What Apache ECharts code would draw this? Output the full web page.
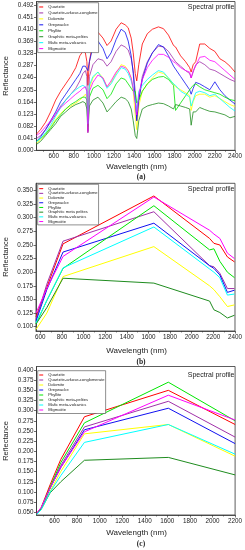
<!DOCTYPE html>
<html><head><meta charset="utf-8">
<script src="https://cdn.jsdelivr.net/npm/echarts@6/dist/echarts.min.js"></script>
<style>html,body{margin:0;padding:0;background:#fff}#c{width:245px;height:550px}</style>
</head><body><div id="c"></div>
<script>
const names = ['Quartzite','Quartzite-arkose-conglomerate','Dolomite','Greywacke','Phyllite','Graphitic meta-pelites','Mafic meta-volcanics','Migmatite'];

// Panel (a) – hyperspectral profile
const wlA = [430,470,520,570,620,670,720,770,820,860,890,915,930,940,955,990,1040,1090,1130,1170,1220,1270,1310,1340,1370,1390,1410,1425,1445,1480,1530,1580,1640,1690,1740,1790,1810,1860,1910,1950,1965,1985,2010,2050,2100,2150,2200,2250,2300,2350,2400];
const aQuartzite = [.055,.07,.095,.13,.17,.20,.225,.25,.28,.32,.335,.33,.30,.22,.30,.37,.40,.38,.355,.37,.41,.432,.425,.415,.38,.33,.26,.235,.29,.36,.395,.41,.418,.412,.39,.355,.35,.32,.30,.28,.265,.29,.30,.36,.36,.345,.335,.31,.30,.285,.265];
const aArkose = [.04,.05,.07,.095,.12,.15,.17,.19,.21,.235,.26,.27,.25,.065,.25,.29,.31,.305,.285,.30,.335,.357,.35,.34,.31,.27,.20,.10,.17,.25,.30,.33,.353,.35,.335,.31,.30,.285,.27,.26,.245,.265,.29,.30,.29,.275,.27,.26,.25,.24,.233];
const aDolomite = [.025,.035,.055,.08,.105,.125,.14,.15,.16,.17,.18,.19,.18,.10,.21,.245,.265,.245,.215,.23,.26,.29,.285,.27,.245,.20,.12,.07,.15,.20,.225,.245,.265,.26,.245,.225,.215,.205,.195,.185,.135,.165,.185,.19,.19,.18,.185,.175,.165,.155,.148];
const aGreywacke = [.03,.045,.07,.10,.13,.165,.19,.215,.24,.26,.285,.285,.28,.27,.30,.35,.37,.345,.31,.33,.375,.41,.40,.37,.32,.26,.17,.10,.17,.24,.295,.33,.358,.35,.32,.285,.275,.25,.225,.205,.19,.21,.23,.225,.215,.205,.232,.205,.185,.17,.157];
const aPhyllite = [.03,.04,.055,.075,.10,.12,.14,.155,.165,.175,.18,.18,.17,.08,.18,.21,.22,.205,.175,.19,.225,.245,.24,.225,.21,.20,.20,.16,.17,.20,.225,.24,.248,.25,.24,.22,.135,.16,.185,.205,.21,.22,.225,.215,.205,.20,.195,.19,.18,.172,.168];
const aGraphitic = [.02,.03,.05,.07,.09,.115,.13,.145,.155,.16,.165,.16,.14,.06,.15,.17,.18,.16,.13,.145,.165,.18,.175,.165,.14,.10,.05,.04,.10,.14,.15,.155,.16,.158,.15,.14,.155,.15,.145,.14,.085,.13,.13,.145,.138,.132,.13,.125,.12,.11,.115];
const aMafic = [.03,.04,.06,.085,.115,.145,.17,.19,.205,.215,.22,.215,.20,.09,.22,.25,.265,.24,.21,.225,.255,.28,.275,.26,.235,.21,.17,.13,.20,.22,.24,.255,.27,.265,.245,.225,.22,.20,.19,.18,.15,.17,.195,.20,.195,.185,.19,.175,.16,.145,.133];
const aMigmatite = [.05,.06,.08,.10,.125,.145,.16,.175,.19,.20,.21,.215,.20,.06,.20,.23,.255,.245,.215,.235,.265,.285,.28,.27,.245,.21,.16,.12,.19,.24,.28,.305,.325,.325,.315,.30,.295,.28,.27,.265,.245,.27,.285,.315,.318,.305,.30,.285,.27,.255,.24];

// Panel (b) – ASTER bands
const wlB = [560,660,810,1650,2165,2205,2260,2330,2395];
const bQuartzite = [0.118,0.172,0.252,0.340,0.262,0.253,0.250,0.228,0.219];
const bArkose = [0.113,0.178,0.257,0.311,0.212,0.210,0.198,0.170,0.170];
const bDolomite = [0.095,0.125,0.192,0.247,0.175,0.168,0.155,0.137,0.140];
const bGreywacke = [0.110,0.168,0.237,0.290,0.212,0.207,0.195,0.163,0.167];
const bPhyllite = [0.105,0.148,0.207,0.322,0.241,0.243,0.220,0.200,0.190];
const bGraphitic = [0.105,0.135,0.189,0.180,0.147,0.131,0.126,0.116,0.121];
const bMafic = [0.107,0.148,0.208,0.283,0.206,0.200,0.190,0.158,0.160];
const bMigmatite = [0.125,0.170,0.229,0.338,0.277,0.270,0.262,0.235,0.225];

// Panel (c) – Landsat OLI bands
const wlC = [443,482,561,655,865,1609,2201];
const cQuartzite = [0.048,0.062,0.118,0.180,0.285,0.350,0.266];
const cArkose = [0.047,0.060,0.110,0.165,0.260,0.323,0.235];
const cDolomite = [0.046,0.057,0.102,0.150,0.243,0.266,0.188];
const cGreywacke = [0.047,0.060,0.110,0.160,0.253,0.306,0.219];
const cPhyllite = [0.047,0.060,0.112,0.172,0.270,0.370,0.275];
const cGraphitic = [0.045,0.058,0.098,0.125,0.178,0.185,0.142];
const cMafic = [0.045,0.057,0.100,0.140,0.222,0.266,0.193];
const cMigmatite = [0.048,0.062,0.110,0.160,0.248,0.338,0.277];

// tick labels
const xTicksA = [600,800,1000,1200,1400,1600,1800,2000,2200,2400];
const xMinorA = [500,700,900,1100,1300,1500,1700,1900,2100,2300];
const yTicksA = [0,0.041,0.082,0.123,0.164,0.205,0.246,0.287,0.328,0.369,0.410,0.451,0.492];
const xTicksB = [600,800,1000,1200,1400,1600,1800,2000,2200,2400];
const xMinorB = [700,900,1100,1300,1500,1700,1900,2100,2300];
const yTicksB = [0.100,0.125,0.150,0.175,0.200,0.225,0.250,0.275,0.300,0.325,0.350];
const xTicksC = [600,800,1000,1200,1400,1600,1800,2000,2200];
const xMinorC = [500,700,900,1100,1300,1500,1700,1900,2100];
const yTicksC = [0.050,0.075,0.100,0.125,0.150,0.175,0.200,0.225,0.250,0.275,0.300,0.325,0.350,0.375,0.400];

const colors = ['#ff0000','#a030a8','#ffff00','#1010f0','#00e600','#1f8c1f','#00ffff','#ff00ff'];
const FONT = '"Liberation Sans", Arial, sans-serif';
const AX = '#333';

const panels = [
  {wl: wlA, data: [aQuartzite,aArkose,aDolomite,aGreywacke,aPhyllite,aGraphitic,aMafic,aMigmatite],
   grid: {left:36.5, top:1.5, width:199.5, height:148.8}, xmin:430, xmax:2400, ymin:0, ymax:0.504,
   xt:xTicksA, xm:xMinorA, yt:yTicksA, lw:0.8},
  {wl: wlB, data: [bQuartzite,bArkose,bDolomite,bGreywacke,bPhyllite,bGraphitic,bMafic,bMigmatite],
   grid: {left:36, top:183.3, width:201, height:147.7}, xmin:560, xmax:2400, ymin:0.0921, ymax:0.3632,
   xt:xTicksB, xm:xMinorB, yt:yTicksB, lw:1},
  {wl: wlC, data: [cQuartzite,cArkose,cDolomite,cGreywacke,cPhyllite,cGraphitic,cMafic,cMigmatite],
   grid: {left:36.5, top:366.5, width:199.5, height:148.5}, xmin:440, xmax:2201, ymin:0.0434, ymax:0.4086,
   xt:xTicksC, xm:xMinorC, yt:yTicksC, lw:1}
];

const grid = [], xAxis = [], yAxis = [], series = [];
panels.forEach((p, i) => {
  grid.push(Object.assign({show:true, borderColor:AX, borderWidth:0.8, backgroundColor:'transparent'}, p.grid));
  xAxis.push({type:'value', gridIndex:i, min:p.xmin, max:p.xmax,
    axisLine:{show:true, lineStyle:{color:AX, width:0.8}},
    axisTick:{show:true, customValues:p.xt, length:2.5, lineStyle:{color:AX, width:0.7}},
    axisLabel:{customValues:p.xt, fontSize:6.3, color:'#222', margin:3, fontFamily:FONT,
      formatter: v => String(Math.round(v))},
    splitLine:{show:false}});
  xAxis.push({type:'value', gridIndex:i, min:p.xmin, max:p.xmax, position:'bottom',
    axisLine:{show:false},
    axisTick:{show:true, customValues:p.xm, length:1.5, lineStyle:{color:AX, width:0.6}},
    axisLabel:{show:false}, splitLine:{show:false}});
  yAxis.push({type:'value', gridIndex:i, min:p.ymin, max:p.ymax,
    axisLine:{show:true, lineStyle:{color:AX, width:0.8}},
    axisTick:{show:true, customValues:p.yt, length:2.5, lineStyle:{color:AX, width:0.7}},
    axisLabel:{customValues:p.yt, fontSize:6.3, color:'#222', margin:3, fontFamily:FONT,
      formatter: v => Number(v).toFixed(3)},
    splitLine:{show:false}});
  p.data.forEach((arr, k) => {
    series.push({type:'line', name:names[k], xAxisIndex:2*i, yAxisIndex:i,
      data: p.wl.map((w, j) => [w, arr[j]]),
      symbol:'none', color:colors[k], lineStyle:{width:p.lw, color:colors[k]}, clip:true, z:2});
  });
});

function legendAt(left, top, lh, pad, fmt) {
  return {orient:'vertical', left:left, top:top, data:names, icon:'rect', itemWidth:4, itemHeight:1,
    itemGap:0, padding:pad, selectedMode:false, backgroundColor:'#fff', borderColor:'#444', borderWidth:0.6,
    textStyle:{fontSize:4.1, lineHeight:lh, color:'#222', fontFamily:FONT}, formatter:fmt};
}
const trunc = n => n.length > 25 ? n.slice(0, 25) : n;
const legend = [
  legendAt(37.7, 2.7, 5.95, [1.3, 1, 1, 1.5], trunc),
  legendAt(37.7, 184.3, 4.7, [2, 1, 1, 1.5], n => trunc(n).replace('meta-pelites','meta pelites')),
  legendAt(37.7, 370.7, 5.0, [1.8, 1, 1, 1.5], n => n)
];

const txt = (x, y, s, size, extra) => Object.assign({type:'text', x:x, y:y, silent:true, z:10,
  style:{text:s, fontSize:size, fill:'#222', fontFamily:FONT, align:'center', verticalAlign:'middle'}}, extra || {});
const graphic = [];
const tY = [[7,167,177,76,'(a)'],[189,351,362,257,'(b)'],[375,533,544,441,'(c)']];
tY.forEach(t => {
  const sp = txt(234.5, t[0], 'Spectral profile', 7); sp.style.align = 'right'; graphic.push(sp);
  graphic.push(txt(136.5, t[1], 'Wavelength (nm)', 8));
  const lab = txt(141, t[2], t[4], 7.5); lab.style.fontFamily = '"Liberation Serif", serif'; lab.style.fontWeight = 'bold'; graphic.push(lab);
  graphic.push(txt(5.5, t[3], 'Reflectance', 7.5, {rotation: Math.PI/2}));
});

const chart = echarts.init(document.getElementById('c'), null, {renderer:'canvas'});
chart.setOption({animation:false, backgroundColor:'#fff', grid, xAxis, yAxis, series, legend, graphic});
</script></body></html>
